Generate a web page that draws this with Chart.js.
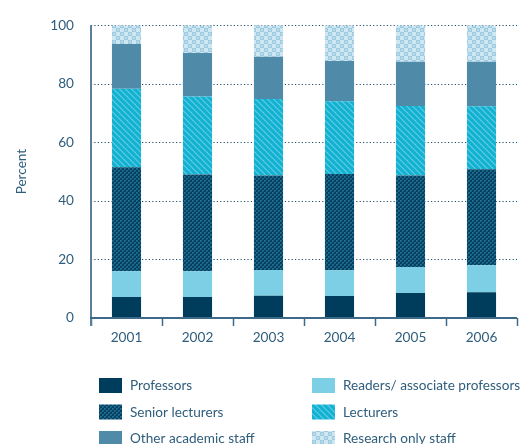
<!DOCTYPE html>
<html>
<head>
<meta charset="utf-8">
<script src="https://cdn.jsdelivr.net/npm/chart.js@4/dist/chart.umd.min.js"></script>
<style>
  html, body { margin: 0; padding: 0; background: #ffffff; }
  #wrap { width: 522px; height: 444px; position: relative; }
</style>
</head>
<body>
<div id="wrap"><canvas id="chart" width="522" height="444"></canvas></div>
<script>
// Academic staff by grade, share of total (percent)
const years = ['2001', '2002', '2003', '2004', '2005', '2006'];
const professors      = [7.2, 7.2, 7.6, 7.5, 8.5, 8.8];
const readers         = [8.8, 8.8, 8.8, 8.8, 8.9, 9.2];
const seniorLecturers = [35.5, 33.0, 32.3, 32.9, 31.3, 32.8];
const lecturers       = [26.8, 26.6, 26.1, 24.8, 23.7, 21.5];
const otherAcademic   = [15.3, 14.9, 14.4, 13.8, 15.1, 15.2];
const researchOnly    = [6.4, 9.5, 10.8, 12.2, 12.5, 12.5];
const yTicks = [0, 20, 40, 60, 80, 100];

const FONT = 'Lato, "Open Sans", sans-serif';
const TEXT = '#2f5d7c';

// --- fill patterns -------------------------------------------------------
function tile(size, draw) {
  const c = document.createElement('canvas');
  c.width = size; c.height = size;
  draw(c.getContext('2d'));
  return c.getContext('2d').createPattern(c, 'repeat');
}
const seniorFill = tile(4, g => {
  g.fillStyle = '#063f60'; g.fillRect(0, 0, 4, 4);
  g.fillStyle = '#1d6b8d'; g.fillRect(0, 0, 2, 2); g.fillRect(2, 2, 2, 2);
  g.fillStyle = '#0f5577'; g.fillRect(1, 1, 1, 1); g.fillRect(3, 3, 1, 1);
});
const lecturerFill = tile(6, g => {
  g.fillStyle = '#12b2d3'; g.fillRect(0, 0, 6, 6);
  g.fillStyle = '#4fc4df';
  for (let i = 0; i < 6; i++) { g.fillRect(i, i, 1, 1); g.fillRect((i + 1) % 6, i, 1, 1); }
});
const researchFill = tile(8, g => {
  g.fillStyle = '#cde8f2'; g.fillRect(0, 0, 8, 8);
  g.fillStyle = '#9fcadf'; g.fillRect(0, 0, 4, 4); g.fillRect(4, 4, 4, 4);
  g.fillStyle = '#b9dcea'; g.fillRect(1, 1, 2, 2); g.fillRect(5, 5, 2, 2);
});

const series = [
  { label: 'Professors', data: professors, backgroundColor: '#003d5d' },
  { label: 'Readers/ associate professors', data: readers, backgroundColor: '#7ccfe4' },
  { label: 'Senior lecturers', data: seniorLecturers, backgroundColor: seniorFill },
  { label: 'Lecturers', data: lecturers, backgroundColor: lecturerFill },
  { label: 'Other academic staff', data: otherAcademic, backgroundColor: '#4f8aa9' },
  { label: 'Research only staff', data: researchOnly, backgroundColor: researchFill }
];

// Dotted horizontal grid drawn behind the bars
const dottedGrid = {
  id: 'dottedGrid',
  beforeDatasetsDraw(chart) {
    const { ctx, chartArea, scales } = chart;
    ctx.save();
    ctx.strokeStyle = '#1f5073';
    ctx.lineWidth = 1.2;
    ctx.setLineDash([1.2, 2.2]);
    yTicks.forEach(v => {
      if (v === 0) return;
      const y = Math.round(scales.y.getPixelForValue(v)) + 0.5;
      ctx.beginPath();
      ctx.moveTo(chartArea.left, y);
      ctx.lineTo(chartArea.right, y);
      ctx.stroke();
    });
    ctx.restore();
  }
};

// Solid axis lines
const axisLines = {
  id: 'axisLines',
  afterDatasetsDraw(chart) {
    const { ctx, chartArea } = chart;
    ctx.save();
    ctx.lineWidth = 2;
    ctx.strokeStyle = '#5a7f98';
    ctx.beginPath();
    ctx.moveTo(chartArea.left, chartArea.top);
    ctx.lineTo(chartArea.left, chartArea.bottom + 8);
    ctx.stroke();
    ctx.strokeStyle = '#3c6a88';
    ctx.beginPath();
    ctx.moveTo(chartArea.left - 1, chartArea.bottom);
    ctx.lineTo(chartArea.right, chartArea.bottom);
    ctx.stroke();
    ctx.restore();
  }
};

// Two-column legend below the axis
const gridLegend = {
  id: 'gridLegend',
  afterDraw(chart) {
    const { ctx } = chart;
    const cols = [99, 312];
    const rows = [378, 404.5, 431];
    ctx.save();
    ctx.font = '13.6px ' + FONT;
    ctx.textBaseline = 'middle';
    ctx.fillStyle = TEXT;
    chart.data.datasets.forEach((ds, i) => {
      const x = cols[i % 2];
      const y = rows[Math.floor(i / 2)];
      ctx.fillStyle = ds.backgroundColor;
      ctx.fillRect(x, y, 23, 15);
      ctx.fillStyle = TEXT;
      ctx.fillText(ds.label, x + 31, y + 8);
    });
    ctx.restore();
  }
};

new Chart(document.getElementById('chart'), {
  type: 'bar',
  data: { labels: years, datasets: series },
  options: {
    responsive: false,
    animation: false,
    layout: { padding: { left: 0, right: 5, top: 23, bottom: 0 } },
    plugins: { legend: { display: false }, tooltip: { enabled: false } },
    datasets: { bar: { categoryPercentage: 1, barPercentage: 0.41, borderWidth: 0 } },
    scales: {
      x: {
        stacked: true,
        offset: true,
        afterFit(s) { s.height = 126; },
        border: { display: false },
        grid: {
          display: true, offset: true, drawOnChartArea: false,
          tickLength: 8, tickColor: '#3c6a88', tickWidth: 1.5
        },
        ticks: { color: TEXT, font: { family: FONT, size: 13.6 }, padding: 3 }
      },
      y: {
        stacked: true,
        min: 0, max: 100,
        afterFit(s) { s.width = 91; },
        border: { display: false },
        grid: { display: false, drawTicks: false },
        afterBuildTicks(s) { s.ticks = yTicks.map(v => ({ value: v })); },
        ticks: { color: TEXT, font: { family: FONT, size: 13.6 }, padding: 17 },
        title: {
          display: true, text: 'Percent', color: TEXT,
          font: { family: FONT, size: 13.6 }, padding: { top: 13, bottom: 0 }
        }
      }
    }
  },
  plugins: [dottedGrid, axisLines, gridLegend]
});
</script>
</body>
</html>
